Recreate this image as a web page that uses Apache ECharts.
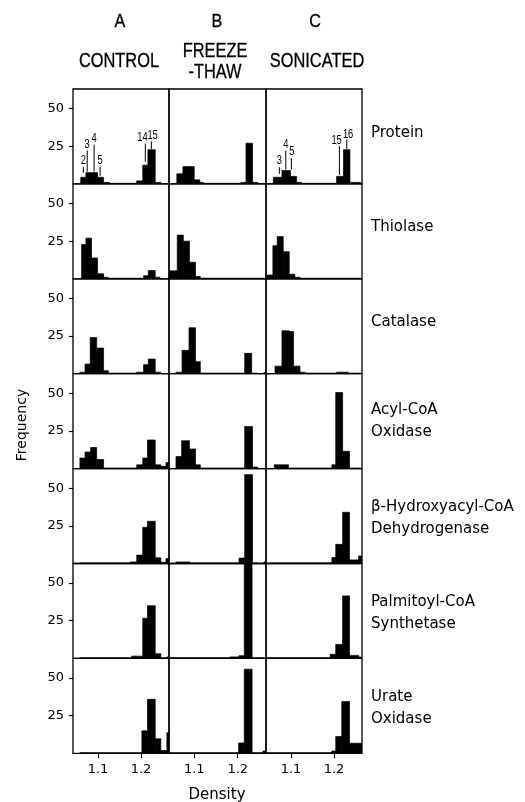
<!DOCTYPE html>
<html><head><meta charset="utf-8">
<script src="https://cdn.jsdelivr.net/npm/echarts@6/dist/echarts.min.js"></script>
<style>html,body{margin:0;padding:0;background:#fff}#c{width:525px;height:802px}</style>
</head><body><div id="c"></div>
<script>
// ---- data: [density from, density to, frequency] per fraction ----
const columnHeads = ['A', 'B', 'C'];
const columnNames = ['CONTROL', 'FREEZE\n-THAW', 'SONICATED'];
const rowNames = ['Protein', 'Thiolase', 'Catalase', 'Acyl-CoA\nOxidase', 'β-Hydroxyacyl-CoA\nDehydrogenase', 'Palmitoyl-CoA\nSynthetase', 'Urate\nOxidase'];
const densityTicks = [1.1, 1.2];
const frequencyTicks = [25, 50];

const proteinA = [[1.060,1.072,4.4],[1.072,1.099,7.5],[1.099,1.113,4.4],[1.113,1.127,1],[1.127,1.190,0.4],[1.190,1.204,2],[1.204,1.216,12.4],[1.216,1.233,22.7],[1.233,1.246,1]];
const proteinB = [[1.060,1.074,6.7],[1.074,1.100,11.5],[1.100,1.113,2.7],[1.113,1.122,1],[1.122,1.207,0.4],[1.207,1.219,1],[1.219,1.234,27],[1.234,1.246,1]];
const proteinC = [[1.059,1.079,4.4],[1.079,1.099,8.9],[1.099,1.113,5],[1.113,1.125,1],[1.125,1.206,0.4],[1.206,1.222,5],[1.222,1.237,22.7],[1.237,1.262,1]];

const thiolaseA = [[1.062,1.072,22.7],[1.072,1.085,27],[1.085,1.099,13.8],[1.099,1.113,3.3],[1.113,1.124,1],[1.124,1.206,0.4],[1.206,1.217,2],[1.217,1.233,5.5],[1.233,1.244,1]];
const thiolaseB = [[1.043,1.061,5.3],[1.061,1.075,29],[1.075,1.089,25],[1.089,1.103,11],[1.103,1.114,1.5],[1.114,1.260,0.4]];
const thiolaseC = [[1.044,1.058,2.5],[1.058,1.068,22],[1.068,1.082,28],[1.082,1.096,18],[1.096,1.109,3],[1.109,1.121,1],[1.121,1.264,0.4]];

const catalaseA = [[1.058,1.070,1],[1.070,1.082,6.4],[1.082,1.097,24],[1.097,1.113,17],[1.113,1.124,2],[1.124,1.190,0.4],[1.190,1.206,1],[1.206,1.217,6],[1.217,1.233,9.7],[1.233,1.246,1]];
const catalaseB = [[1.058,1.072,1],[1.072,1.088,15.5],[1.088,1.103,30.5],[1.103,1.114,8],[1.114,1.216,0.4],[1.216,1.232,13.5],[1.232,1.246,0.4],[1.260,1.265,0.8]];
const catalaseC = [[1.063,1.079,5],[1.079,1.095,28.5],[1.095,1.106,28],[1.106,1.121,5],[1.121,1.133,1],[1.133,1.206,0.4],[1.206,1.233,1],[1.233,1.264,0.4]];

const acylOxA = [[1.058,1.070,7],[1.070,1.083,11],[1.083,1.097,14],[1.097,1.113,6],[1.113,1.190,0.4],[1.190,1.204,2.5],[1.204,1.215,7],[1.215,1.233,19],[1.233,1.246,2.5],[1.246,1.258,1.5],[1.258,1.265,4]];
const acylOxB = [[1.058,1.071,8],[1.071,1.089,18.5],[1.089,1.103,13],[1.103,1.114,2.5],[1.114,1.216,0.4],[1.216,1.234,28],[1.234,1.246,1]];
const acylOxC = [[1.061,1.094,2.5],[1.094,1.195,0.4],[1.195,1.204,2.5],[1.204,1.220,50.5],[1.220,1.236,11.5],[1.236,1.264,0.4]];

const hydroxyA = [[1.058,1.175,0.4],[1.175,1.190,1],[1.190,1.204,5.6],[1.204,1.215,24],[1.215,1.233,28],[1.233,1.246,3.8],[1.246,1.258,0.8],[1.258,1.265,3.3]];
const hydroxyB = [[1.058,1.091,1],[1.091,1.203,0.4],[1.203,1.216,3.6],[1.216,1.234,59],[1.234,1.246,0.4],[1.260,1.265,1]];
const hydroxyC = [[1.051,1.195,0.4],[1.195,1.204,4],[1.204,1.220,12.7],[1.220,1.236,34],[1.236,1.257,2.4],[1.257,1.265,5]];

const palmitoylA = [[1.058,1.178,0.4],[1.178,1.204,1.5],[1.204,1.215,26.7],[1.215,1.233,35],[1.233,1.246,3.1],[1.246,1.260,0.4],[1.260,1.265,1]];
const palmitoylB = [[1.044,1.182,0.4],[1.182,1.203,1],[1.203,1.215,1.8],[1.215,1.233,70],[1.233,1.261,0.4]];
const palmitoylC = [[1.044,1.191,0.4],[1.191,1.204,2.7],[1.204,1.220,9.3],[1.220,1.236,41.5],[1.236,1.257,2],[1.257,1.265,1]];

const urateA = [[1.058,1.202,0.4],[1.202,1.215,14.9],[1.215,1.233,35.8],[1.233,1.246,9.6],[1.246,1.260,1.8],[1.260,1.265,13.6]];
const urateB = [[1.044,1.202,0.4],[1.202,1.215,6.9],[1.215,1.233,55.8],[1.233,1.258,0.4],[1.258,1.265,1.5]];
const urateC = [[1.044,1.195,0.4],[1.195,1.204,1.5],[1.204,1.218,11.1],[1.218,1.236,34.4],[1.236,1.265,6.7]];

// fraction numbers on the protein panels:
// [line density, line top freq, line bottom freq, text density, text freq, label]
const proteinFractionsA = [[1.066,11.3,7.3,1.066,15.5,'2'],[1.075,22.2,8.2,1.075,26,'3'],[1.091,26,8.2,1.091,30,'4'],[1.105,11.3,5.3,1.105,15.5,'5'],[1.210,26.7,14.7,1.2036,30.7,'14'],[1.224,28.2,23.3,1.2269,32.2,'15']];
const proteinFractionsC = [[1.073,11.1,6.7,1.073,15.3,'3'],[1.088,22.2,9.5,1.088,26,'4'],[1.101,17.1,9.5,1.102,21.1,'5'],[1.2125,25.1,6,1.206,28.9,'15'],[1.2296,29.5,23.3,1.2327,32.9,'16']];

const panels = [
  [proteinA, proteinB, proteinC],
  [thiolaseA, thiolaseB, thiolaseC],
  [catalaseA, catalaseB, catalaseC],
  [acylOxA, acylOxB, acylOxC],
  [hydroxyA, hydroxyB, hydroxyC],
  [palmitoylA, palmitoylB, palmitoylC],
  [urateA, urateB, urateC]
];

// ---- layout ----
const colLeft = [73, 169, 266];
const colWidth = [96, 97, 96];
const rowTop0 = 89, rowH = 94.9;
const xMin = 1.042, xMax = 1.265, yMax = 63;
const FONT = '"DejaVu Sans", sans-serif';

const grids = [], xAxes = [], yAxes = [], series = [];
function renderBar(params, api) {
  const p0 = api.coord([api.value(0), api.value(2)]);
  const p1 = api.coord([api.value(1), 0]);
  return { type: 'rect', shape: { x: p0[0], y: p0[1], width: p1[0] - p0[0], height: p1[1] - p0[1] },
    style: { fill: '#000', stroke: '#000', lineWidth: 0.7 } };
}
function makeMarkRenderer(arr) {
  return function (params, api) {
    const d = arr[params.dataIndex];
    const a = api.coord([d[0], d[1]]);
    const b = api.coord([d[0], d[2]]);
    const t = api.coord([d[3], d[4]]);
    return { type: 'group', children: [
      { type: 'line', shape: { x1: a[0], y1: a[1], x2: b[0], y2: b[1] }, style: { stroke: '#000', lineWidth: 1 } },
      { type: 'text', x: t[0], y: t[1], scaleX: 0.78, style: { text: d[5], font: '12px "Liberation Sans", sans-serif', fill: '#000', textAlign: 'center', textVerticalAlign: 'middle' } }
    ] };
  };
}

let gi = 0;
for (let r = 0; r < 7; r++) {
  for (let c = 0; c < 3; c++) {
    grids.push({ left: colLeft[c], top: rowTop0 + r * rowH, width: colWidth[c], height: rowH, show: true, borderColor: '#000', borderWidth: 1.3, backgroundColor: 'transparent', containLabel: false });
    const bottom = r === 6;
    xAxes.push({ gridIndex: gi, type: 'value', min: xMin, max: xMax, splitLine: { show: false },
      axisLine: { show: false },
      axisTick: { show: bottom, customValues: densityTicks, length: 5, inside: false, lineStyle: { color: '#000', width: 1.2 } },
      axisLabel: { show: bottom, customValues: densityTicks, margin: 10, color: '#000', fontSize: 13, fontFamily: FONT, formatter: v => String(v) } });
    yAxes.push({ gridIndex: gi, type: 'value', min: 0, max: yMax, splitLine: { show: false },
      axisLine: { show: false },
      axisTick: { show: c === 0, customValues: frequencyTicks, length: 4, inside: false, lineStyle: { color: '#000', width: 1.2 } },
      axisLabel: { show: c === 0, customValues: frequencyTicks, margin: 9, color: '#000', fontSize: 13, fontFamily: FONT } });
    series.push({ type: 'custom', xAxisIndex: gi, yAxisIndex: gi, clip: true, silent: true, animation: false,
      renderItem: renderBar, encode: { x: [0, 1], y: 2 }, data: panels[r][c] });
    if (r === 0 && c !== 1) {
      const arr = c === 0 ? proteinFractionsA : proteinFractionsC;
      series.push({ type: 'custom', xAxisIndex: gi, yAxisIndex: gi, silent: true, animation: false,
        renderItem: makeMarkRenderer(arr), encode: { x: 0, y: 1 }, data: arr.map(d => [d[0], d[1], d[2], d[3], d[4]]) });
    }
    gi++;
  }
}

const graphic = [];
const headX = [120, 217, 315];
const nameX = [119, 215, 317];
for (let c = 0; c < 3; c++) {
  graphic.push({ type: 'text', x: headX[c], y: 22, scaleX: 0.85, style: { text: columnHeads[c], font: '19px "Liberation Sans", sans-serif', fill: '#000', stroke: '#000', lineWidth: 0.3, textAlign: 'center', textVerticalAlign: 'middle' } });
  graphic.push({ type: 'text', x: nameX[c], y: c === 1 ? 62 : 61, scaleX: 0.82, style: { text: columnNames[c], font: '20px "Liberation Sans", sans-serif', lineHeight: 21, fill: '#000', stroke: '#000', lineWidth: 0.3, textAlign: 'center', textVerticalAlign: 'middle' } });
}
const rowLabelY = [133, 227, 322, 421, 518, 613, 708];
for (let r = 0; r < 7; r++) {
  graphic.push({ type: 'text', x: 371, y: rowLabelY[r], style: { text: rowNames[r], font: '15px ' + FONT, lineHeight: 22, fill: '#000', textAlign: 'left', textVerticalAlign: 'middle' } });
}
graphic.push({ type: 'text', x: 217, y: 795, style: { text: 'Density', font: '15px ' + FONT, fill: '#000', textAlign: 'center', textVerticalAlign: 'middle' } });
graphic.push({ type: 'text', x: 22, y: 425, rotation: Math.PI / 2, style: { text: 'Frequency', font: '14px ' + FONT, fill: '#000', textAlign: 'center', textVerticalAlign: 'middle' } });

const chart = echarts.init(document.getElementById('c'), null, { renderer: 'canvas' });
chart.setOption({ animation: false, backgroundColor: '#fff', grid: grids, xAxis: xAxes, yAxis: yAxes, series: series, graphic: graphic });
</script></body></html>
